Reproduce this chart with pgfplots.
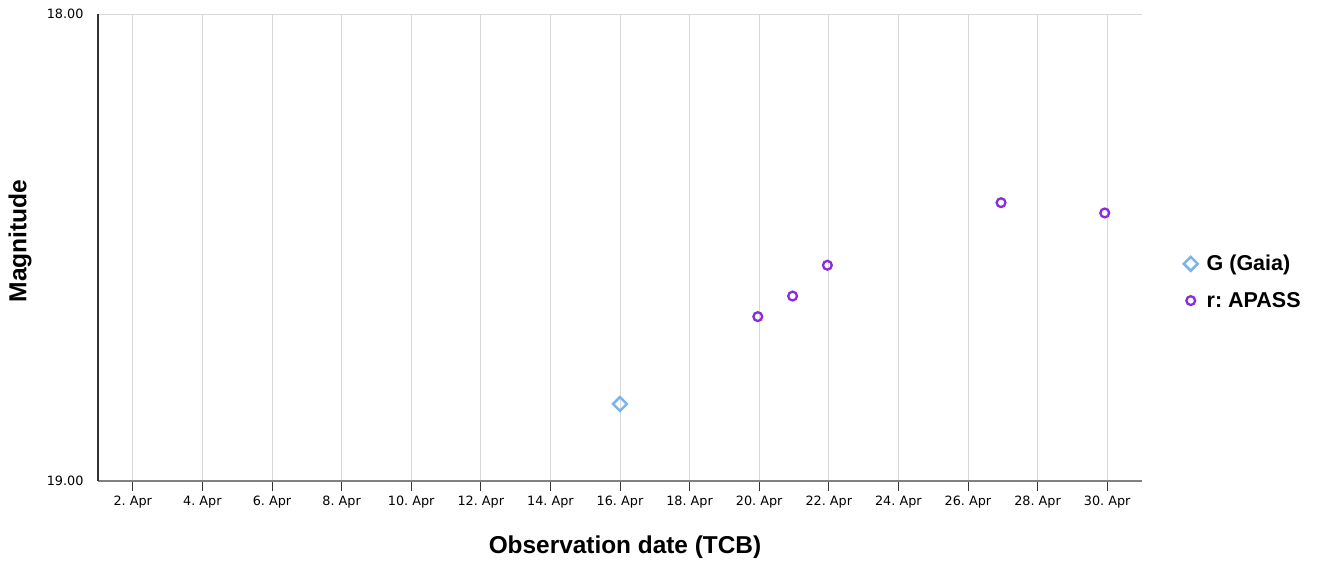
\documentclass[border=0pt]{standalone}
\usepackage{pgfplots}
\pgfplotsset{compat=1.18}
\usepackage{fontspec}
\setmainfont{Liberation Sans}
\newfontfamily\tickfont{DejaVu Sans}
\definecolor{gaia}{HTML}{7CB5EC}
\definecolor{apass}{HTML}{8A2BE2}
\definecolor{gridc}{HTML}{D8D8D8}
\frenchspacing
\begin{document}
\begin{tikzpicture}[x=1pt,y=1pt]
\useasboundingbox (0,0) rectangle (1317,562);
\begin{axis}[
  at={(98pt,81pt)}, anchor=south west,
  width=1044pt, height=467pt, scale only axis,
  xmin=1, xmax=31, ymin=18, ymax=19,
  y dir=reverse,
  axis x line=bottom, axis y line=left,
  axis line style={-},
  x axis line style={draw=black!50, line width=1.8pt},
  y axis line style={draw=black!80, line width=1.2pt},
  xtick={2,4,...,30},
  xticklabels={2. Apr,4. Apr,6. Apr,8. Apr,10. Apr,12. Apr,14. Apr,16. Apr,18. Apr,20. Apr,22. Apr,24. Apr,26. Apr,28. Apr,30. Apr},
  ytick={18,19},
  yticklabels={18.00,19.00},
  xtick align=outside,
  major tick length=10pt,
  x tick style={draw=black!80, line width=0.9pt},
  y tick style={draw=none},
  xmajorgrids, ymajorgrids,
  grid style={draw=gridc, line width=0.9pt},
  tick label style={font=\tickfont\fontsize{12.8}{14}\selectfont},
  xticklabel style={yshift=-1pt, anchor=north, text height=9.5pt, text depth=3pt},
  yticklabel style={xshift=-6pt},
  xlabel={Observation date (TCB)},
  ylabel={Magnitude},
  xlabel style={font=\bfseries\fontsize{24.4}{28}\selectfont, at={(axis description cs:0.5048,-0.141)}, anchor=center},
  ylabel style={font=\bfseries\fontsize{24.6}{28}\selectfont, at={(axis description cs:-0.0747,0.514)}, anchor=center},
  legend style={at={(axis description cs:1.037,0.426)}, anchor=west, draw=none, fill=none,
    font=\bfseries\fontsize{21.5}{24}\selectfont, row sep=16pt, cells={anchor=west},
    /tikz/every odd column/.append style={column sep=7pt}},
  clip=false,
]
\addplot[only marks, mark=square, mark size=4.9pt, mark options={draw=gaia, line width=2.5pt, fill=white, rotate=45}]
  coordinates {(16.0,18.835)};
\addlegendentry{G (Gaia)}
\addplot[only marks, mark=o, mark size=4.4pt, mark options={draw=apass, line width=2.3pt, fill=white}]
  coordinates {(19.96,18.648) (20.96,18.604) (21.96,18.538) (26.95,18.404) (29.93,18.426)};
\addlegendentry{r: APASS}
\end{axis}
\end{tikzpicture}
\end{document}
